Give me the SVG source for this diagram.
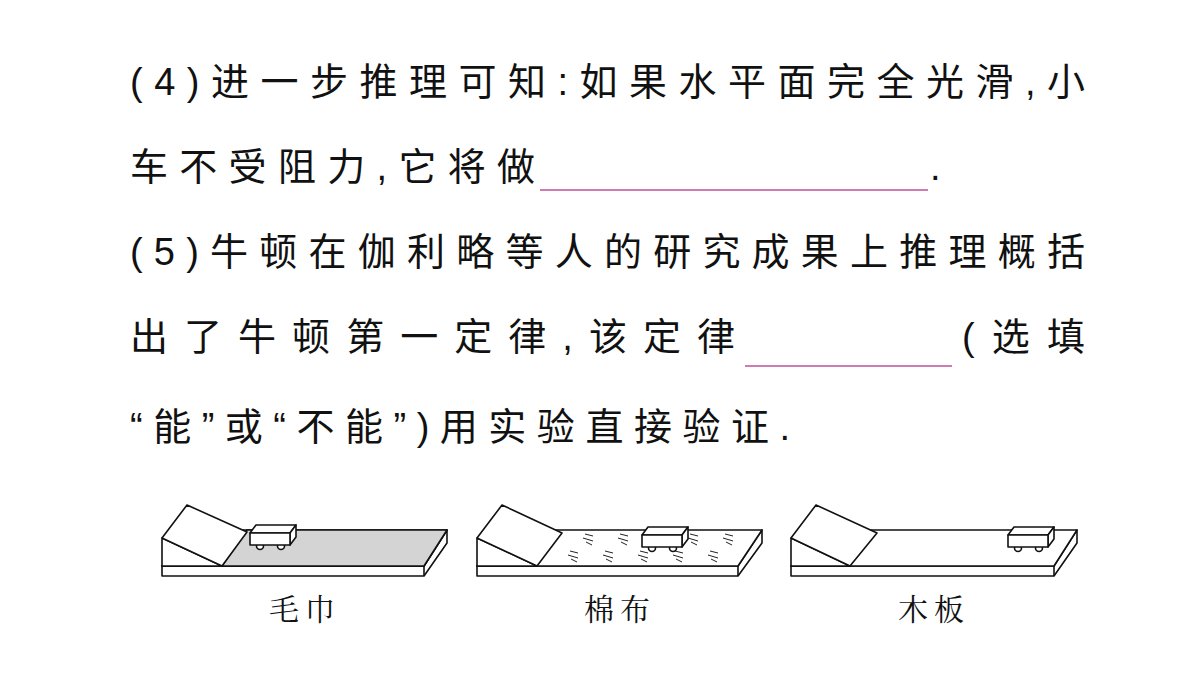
<svg xmlns="http://www.w3.org/2000/svg" width="1200" height="675" viewBox="0 0 1200 675">
<style>
.t{font-family:"Liberation Sans","Noto Sans CJK SC",sans-serif;font-size:38px;fill:#111}
.l{font-family:"Noto Serif CJK SC","Noto Sans CJK SC",serif;font-size:30px;fill:#111}
.s{fill:#fff;stroke:#111;stroke-width:1.6;stroke-linejoin:round}
.u{stroke:#c0509a;stroke-width:1.3}
.h{stroke:#222;stroke-width:1;fill:none}
</style>
<defs>
<g id="car">
<circle cx="10" cy="13" r="3.5" class="s"/>
<circle cx="31" cy="13" r="3.5" class="s"/>
<polygon points="0,0 6,-8 46,-8 40,0" class="s"/>
<polygon points="40,0 46,-8 46,4 40,12" class="s"/>
<rect x="0" y="0" width="40" height="12" class="s"/>
</g>
</defs>
<rect width="1200" height="675" fill="#fff"/>
<text class="t" x="130" y="95" textLength="955" lengthAdjust="spacing">(4)进一步推理可知:如果水平面完全光滑,小</text>
<text class="t" x="130" y="180" textLength="405" lengthAdjust="spacing">车不受阻力,它将做</text>
<line class="u" x1="540" y1="190" x2="928" y2="190"/>
<text class="t" x="930" y="180">.</text>
<text class="t" x="130" y="265" textLength="955" lengthAdjust="spacing">(5)牛顿在伽利略等人的研究成果上推理概括</text>
<text class="t" x="130" y="350" textLength="605" lengthAdjust="spacing">出了牛顿第一定律,该定律</text>
<line class="u" x1="745" y1="366" x2="952" y2="366"/>
<text class="t" x="962" y="350" textLength="123" lengthAdjust="spacing">(选填</text>
<text class="t" x="130" y="440" textLength="660" lengthAdjust="spacing">“能”或“不能”)用实验直接验证.</text>

<g id="setup1">
<polygon points="162,566 424,566 447,530 447,543 424,576 162,576" class="s"/>
<polygon points="162,566 185,530 447,530 424,566" class="s"/>
<polygon points="222,566 247,530 447,530 424,566" fill="#d4d4d4" stroke="#111" stroke-width="1.6" stroke-linejoin="round"/>
<line x1="424" y1="566" x2="424" y2="576" stroke="#111" stroke-width="1.6"/>
<polygon points="162,538 162,566 222,566" class="s"/>
<polygon points="162,538 187,505 247,532 222,566" class="s"/>
<use href="#car" x="250" y="533"/>
</g>
<g id="setup2">
<polygon points="477,566 738,566 762,530 762,543 738,576 477,576" class="s"/>
<polygon points="477,566 500,530 762,530 738,566" class="s"/>
<line x1="738" y1="566" x2="738" y2="576" stroke="#111" stroke-width="1.6"/>
<g class="h">
<path d="M585,534l8,2M583,538l10,3M586,542l6,3"/>
<path d="M620,534l8,2M618,538l10,3M621,542l6,3"/>
<path d="M690,534l8,2M688,538l10,3M691,542l6,3"/>
<path d="M725,534l8,2M723,538l10,3M726,542l6,3"/>
<path d="M570,551l8,2M568,555l10,3M571,559l6,3"/>
<path d="M605,551l8,2M603,555l10,3M606,559l6,3"/>
<path d="M640,551l8,2M638,555l10,3M641,559l6,3"/>
<path d="M675,551l8,2M673,555l10,3M676,559l6,3"/>
<path d="M710,551l8,2M708,555l10,3M711,559l6,3"/>
</g>
<polygon points="477,538 477,566 537,566" class="s"/>
<polygon points="477,538 502,505 562,533 537,566" class="s"/>
<use href="#car" x="642" y="535"/>
</g>
<g id="setup3">
<polygon points="791,566 1054,566 1077,530 1077,543 1054,576 791,576" class="s"/>
<polygon points="791,566 815,530 1077,530 1054,566" class="s"/>
<line x1="1054" y1="566" x2="1054" y2="576" stroke="#111" stroke-width="1.6"/>
<polygon points="791,538 791,566 850,566" class="s"/>
<polygon points="791,538 816,505 877,533 850,566" class="s"/>
<use href="#car" x="1008" y="535"/>
</g>
<text class="l" x="305" y="620" text-anchor="middle" letter-spacing="6">毛巾</text>
<text class="l" x="620" y="620" text-anchor="middle" letter-spacing="6">棉布</text>
<text class="l" x="934" y="620" text-anchor="middle" letter-spacing="6">木板</text>
</svg>
